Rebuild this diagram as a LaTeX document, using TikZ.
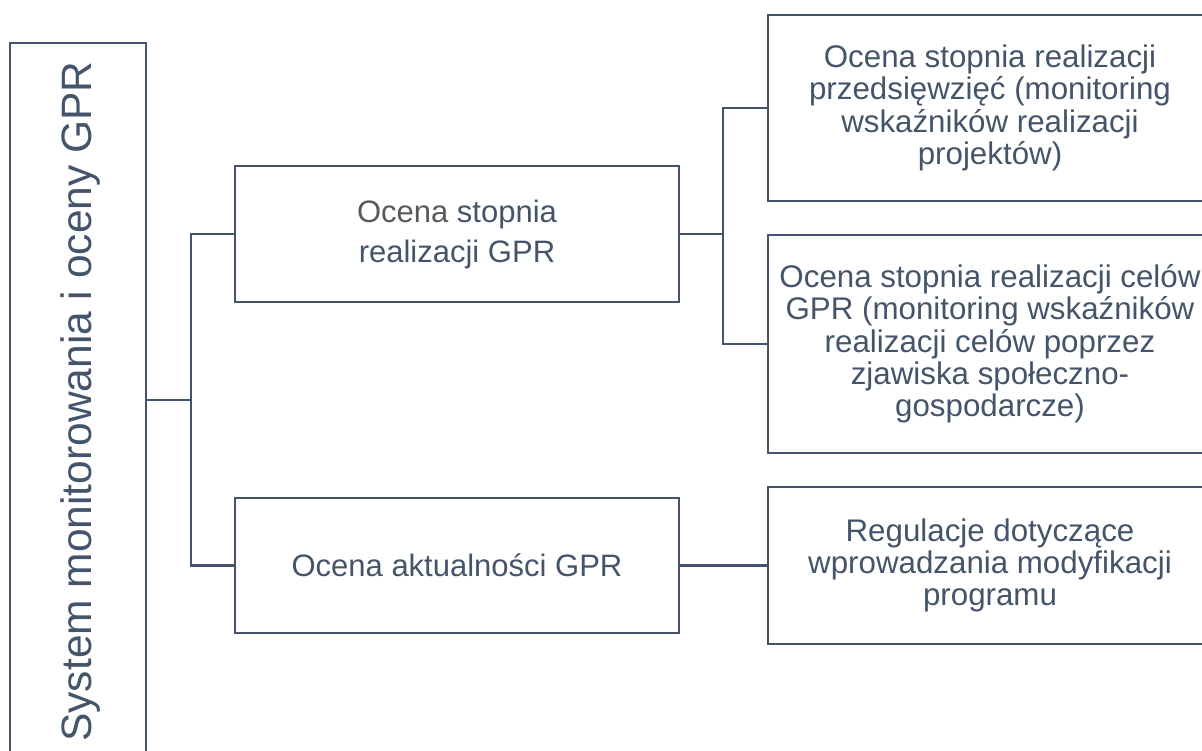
\documentclass[tikz,border=0pt]{standalone}
\usepackage{fontspec}
\setmainfont{Liberation Sans}
\definecolor{slate}{HTML}{44546A}
\definecolor{ocenagray}{HTML}{595959}
\begin{document}
\begin{tikzpicture}[x=1pt,y=-1pt,
  line/.style={draw=slate, line width=2.8pt},
  box/.style={draw=slate, line width=2.8pt, rectangle, inner sep=0pt, align=center, text=slate, minimum width=444pt},
  midtext/.style={font=\fontsize{31}{40}\selectfont},
  righttext/.style={font=\fontsize{31.3}{32.3}\selectfont},
]
\useasboundingbox (0,0) rectangle (1202,751);
\begin{scope}
\clip (0,0) rectangle (1202,751);
% left box
\node[draw=slate, line width=2.8pt, rectangle, inner sep=0pt, minimum width=136pt, minimum height=714pt] (sys) at (78,400) {};
\node[rotate=90, inner sep=0pt, text=slate, font=\fontsize{42.5}{48}\selectfont] (systxt) at (81,401.5) {System monitorowania i oceny GPR};
% middle boxes
\node[box, midtext, minimum height=136pt] (b1) at (457,234) {\textcolor{ocenagray}{Ocena} stopnia\\realizacji GPR};
\node[box, midtext, minimum height=135pt] (b2) at (457,565.5) {Ocena aktualności GPR};
% right boxes
\node[box, righttext, minimum height=186pt] (r1) at (990,108) {Ocena stopnia realizacji\\przedsięwzięć (monitoring\\wskaźników realizacji\\projektów)};
\node[box, righttext, minimum height=218pt] (r2) at (990,344) {Ocena stopnia realizacji celów\\GPR (monitoring wskaźników\\realizacji celów poprzez\\zjawiska społeczno-\\gospodarcze)};
\node[box, righttext, minimum height=157pt] (r3) at (990,565.5) {Regulacje dotyczące\\wprowadzania modyfikacji\\programu};
% connectors
\coordinate (j1) at (191,400);
\coordinate (j2) at (723,234);
\draw[line] (sys.east) -- (j1);
\draw[line] (b1.west) -| (j1);
\draw[line] (b2.west) -| (j1);
\draw[line] (b1.east) -- (j2);
\draw[line] (r1.west) -| (j2);
\draw[line] (r2.west) -| (j2);
\draw[line] (b2.east) -- (r3.west);
\end{scope}
\end{tikzpicture}
\end{document}
